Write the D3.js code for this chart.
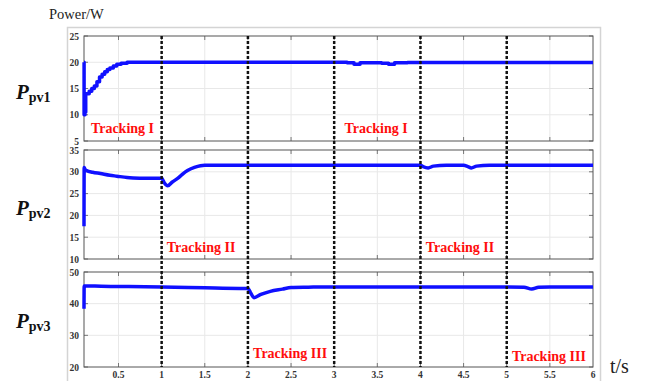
<!DOCTYPE html>
<html><head><meta charset="utf-8">
<script src="https://cdn.jsdelivr.net/npm/d3@7"></script>
<style>body{margin:0;background:#fff}svg{display:block}</style>
</head><body>
<svg id="c" width="648" height="381"></svg>
<script>
// ---- data ----
const t1 = [0.1,0.101,0.112,0.12,0.15,0.16,0.19,0.22,0.25,0.28,0.31,0.34,0.37,0.40,0.44,0.48,0.53,0.6,1.0,2.0,3.0,3.15,3.23,3.3,3.45,3.55,3.63,3.7,3.85,4.0,5.0,6.0];
const p1 = [20,10,10.5,14,14,14.5,15,15.5,16.3,17.2,17.7,18.2,18.6,18.9,19.3,19.6,19.8,20,20,20,20,19.9,19.6,19.9,19.9,19.8,19.6,19.9,19.95,19.95,19.95,19.95];
const t2 = [0.1,0.102,0.11,0.13,0.2,0.29,0.4,0.48,0.6,0.67,0.8,0.98,1.0,1.03,1.07,1.12,1.2,1.25,1.3,1.38,1.45,1.5,2,3,4,4.03,4.09,4.15,4.3,4.5,4.55,4.59,4.65,4.8,5,6];
const p2 = [17.5,31,30.6,30.3,29.9,29.6,29.2,29.0,28.7,28.6,28.5,28.5,28.5,27.5,26.8,27.6,28.7,29.6,30.3,31.0,31.4,31.5,31.5,31.5,31.5,31.2,30.9,31.3,31.5,31.5,31.2,30.9,31.3,31.5,31.5,31.5];
const t3 = [0.1,0.102,0.3,0.6,1.0,1.5,1.9,2.0,2.03,2.07,2.15,2.26,2.4,2.5,2.7,3.0,4.0,5.0,5.2,5.29,5.37,5.5,6.0];
const p3 = [38.4,45.6,45.5,45.4,45.3,45.0,44.8,44.8,43.5,41.9,42.9,43.9,44.6,45.1,45.2,45.3,45.3,45.3,45.2,44.6,45.2,45.3,45.3];
const xTicks = [0.5,1,1.5,2,2.5,3,3.5,4,4.5,5,5.5,6];
const xTickLabels = ["0.5","1","1.5","2","2.5","3","3.5","4","4.5","5","5.5","6"];
const yTicks1 = [5,10,15,20,25];
const yTicks2 = [10,15,20,25,30,35];
const yTicks3 = [20,30,40,50];
const boundaries = [1,2,3,4,5];
const panelNames = ["pv1","pv2","pv3"];
const trackLabels = [
  {panel:0, t:0.18, text:"Tracking I"},
  {panel:0, t:3.12, text:"Tracking I"},
  {panel:1, t:1.06, text:"Tracking II"},
  {panel:1, t:4.06, text:"Tracking II"},
  {panel:2, t:2.06, text:"Tracking III"},
  {panel:2, t:5.06, text:"Tracking III"}
];

// ---- layout ----
const svg = d3.select("#c");
const L = 84, R = 593;
const x = d3.scaleLinear().domain([0.1,6]).range([L,R]);
const panels = [
  {top:36, bot:141, dom:[5,25], ticks:yTicks1, t:t1, p:p1},
  {top:150, bot:259, dom:[10,35], ticks:yTicks2, t:t2, p:p2},
  {top:272, bot:367, dom:[20,50], ticks:yTicks3, t:t3, p:p3}
];
const serif = "Liberation Serif, Times New Roman, serif";

svg.append("rect").attr("x",67.5).attr("y",27.5).attr("width",533).attr("height",370)
  .attr("fill","none").attr("stroke","#d4d4d4").attr("stroke-width",1.5);

svg.append("text").attr("x",49).attr("y",19).text("Power/W")
  .attr("font-family",serif).attr("font-size",14.5).attr("fill","#222");

panels.forEach((pn,i)=>{
  const y = d3.scaleLinear().domain(pn.dom).range([pn.bot,pn.top]);
  const g = svg.append("g");
  const gx = xTicks.filter(v=>v<6);
  g.selectAll(".gx").data(gx).join("line")
    .attr("x1",d=>x(d)).attr("x2",d=>x(d)).attr("y1",pn.top).attr("y2",pn.bot)
    .attr("stroke","#e8e8e8").attr("stroke-width",1);
  g.selectAll(".gy").data(pn.ticks.slice(1,-1)).join("line")
    .attr("x1",L).attr("x2",R).attr("y1",d=>y(d)).attr("y2",d=>y(d))
    .attr("stroke","#e8e8e8").attr("stroke-width",1);
  g.selectAll(".tx").data(gx).join("line")
    .attr("x1",d=>x(d)).attr("x2",d=>x(d)).attr("y1",pn.bot).attr("y2",pn.bot-4)
    .attr("stroke","#777");
  g.selectAll(".tx2").data(gx).join("line")
    .attr("x1",d=>x(d)).attr("x2",d=>x(d)).attr("y1",pn.top).attr("y2",pn.top+4)
    .attr("stroke","#777");
  g.selectAll(".ty").data(pn.ticks).join("line")
    .attr("x1",L).attr("x2",L+4).attr("y1",d=>y(d)).attr("y2",d=>y(d)).attr("stroke","#777");
  g.selectAll(".ty2").data(pn.ticks).join("line")
    .attr("x1",R).attr("x2",R-4).attr("y1",d=>y(d)).attr("y2",d=>y(d)).attr("stroke","#777");
  g.selectAll(".yl").data(pn.ticks).join("text")
    .attr("x",L-5).attr("y",d=>y(d)+3.5).attr("text-anchor","end")
    .attr("font-family",serif).attr("font-weight","bold")
    .attr("font-size",9.5).attr("fill","#333").text(d=>d);
  g.append("rect").attr("x",L).attr("y",pn.top).attr("width",R-L).attr("height",pn.bot-pn.top)
    .attr("fill","none").attr("stroke","#555").attr("stroke-width",1);
  const data = pn.t.map((tv,k)=>[tv,pn.p[k]]);
  g.append("path").datum(data)
    .attr("d", d3.line().x(d=>x(d[0])).y(d=>y(d[1])).curve(i===0? d3.curveStepAfter : d3.curveMonotoneX))
    .attr("fill","none").attr("stroke","#1010ff").attr("stroke-width",3.5).attr("stroke-linejoin","round");
  const cy = (pn.top+pn.bot)/2;
  const tx = svg.append("text").attr("x",16).attr("y",cy+(i===2?8:10))
    .attr("font-family",serif).attr("font-weight","bold").attr("fill","#111");
  tx.append("tspan").attr("font-style","italic").attr("font-size",21).text("P");
  tx.append("tspan").attr("font-size",14).attr("dy",3).text(panelNames[i]);
});

svg.selectAll(".xl").data(xTicks).join("text")
  .attr("x",(d)=>x(d)).attr("y",378).attr("text-anchor","middle")
  .attr("font-family",serif).attr("font-weight","bold")
  .attr("font-size",9.5).attr("fill","#333").text((d,i)=>xTickLabels[i]);

svg.selectAll(".bd").data(boundaries).join("line")
  .attr("x1",d=>x(d)).attr("x2",d=>x(d)).attr("y1",36).attr("y2",367)
  .attr("stroke","#111").attr("stroke-width",2.5).attr("stroke-dasharray","3,2");

const labelY = [133, 252, 358];
svg.selectAll(".tl").data(trackLabels).join("text")
  .attr("x",d=>x(d.t)).attr("y",d=>labelY[d.panel] + (d.panel===2 && d.t>4 ? 3 : 0))
  .attr("font-family",serif).attr("font-weight","bold")
  .attr("font-size",14).attr("fill","#ff0d0d").text(d=>d.text);

svg.append("text").attr("x",610).attr("y",373).text("t/s")
  .attr("font-family",serif).attr("font-size",20).attr("fill","#222");
</script>
</body></html>
